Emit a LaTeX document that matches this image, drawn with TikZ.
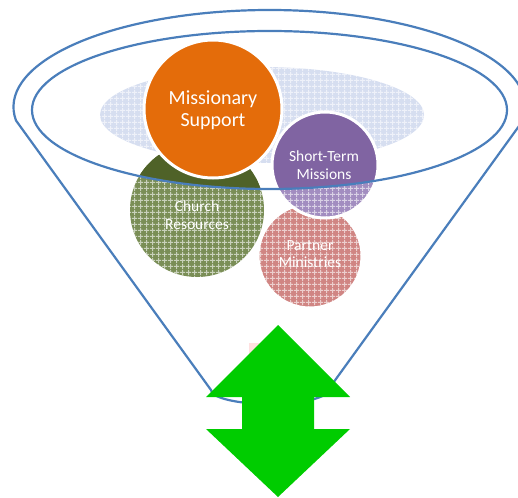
\documentclass[tikz,border=0pt]{standalone}
\usepackage{fontspec}
\setmainfont{Carlito}
\usetikzlibrary{patterns.meta}
\definecolor{funnelblue}{HTML}{4A7EBB}
\definecolor{orangeS}{HTML}{E46C0A}
\definecolor{purpleS}{HTML}{8064A2}
\definecolor{purpleP}{HTML}{A28DC0}
\definecolor{greenS}{HTML}{4F6228}
\definecolor{greenP}{HTML}{7A8E56}
\definecolor{redP}{HTML}{D08583}
\definecolor{bgP}{HTML}{D6DEF0}
\definecolor{arrowgreen}{HTML}{00CC00}
\tikzdeclarepattern{name=wgrid, type=uncolored,
  bounding box={(0,0) and (6pt,6pt)}, tile size={(6pt,6pt)},
  code={\tikzset{line width=0.5pt}\draw (0,3pt)--(6pt,3pt) (3pt,0)--(3pt,6pt);}}
\tikzset{
  funnelline/.style={draw=funnelblue, line width=2.2pt, line join=round},
  bubbleborder/.style={draw=white, line width=3pt},
  gridfill/.style={pattern=wgrid, pattern color=white, fill opacity=0.6},
  bigtext/.style={text=white, font=\fontsize{20}{22}\selectfont, align=center},
  smalltext/.style={text=white, font=\fontsize{15.5}{17.5}\selectfont, align=center},
  fadedtext/.style={smalltext},
}
\begin{document}
\begin{tikzpicture}[x=1pt,y=-1pt]
\useasboundingbox (0,0) rectangle (518,497);
% named centres
\coordinate (bgc) at (262,115);
\coordinate (grc) at (197,210);
\coordinate (rdc) at (310,256);
\coordinate (puc) at (325,165);
\coordinate (orc) at (213,109);
\coordinate (inc) at (269.5,110);
\coordinate (ouc) at (269.5,107);

% background light-blue ellipse
\fill[bgP] (bgc) ellipse[x radius=162, y radius=48];
\fill[gridfill] (bgc) ellipse[x radius=162, y radius=48];

% Church Resources (green)
\fill[greenP] (grc) circle[radius=67];
\fill[gridfill] (grc) circle[radius=67];
\begin{scope}
  \clip (inc) ellipse[x radius=237.5, y radius=79];
  \fill[greenS] (grc) circle[radius=67];
\end{scope}

% Partner Ministries (red)
\fill[redP] (rdc) circle[radius=52];
\fill[gridfill] (rdc) circle[radius=52];
\draw[bubbleborder] (rdc) circle[radius=52];

% Short-Term Missions (purple)
\fill[purpleP] (puc) circle[radius=53];
\fill[gridfill] (puc) circle[radius=53];
\begin{scope}
  \clip (inc) ellipse[x radius=237.5, y radius=79];
  \fill[purpleS] (puc) circle[radius=53];
\end{scope}
\draw[bubbleborder] (puc) circle[radius=53];

% Missionary Support (orange)
\fill[orangeS] (orc) circle[radius=69];
\draw[bubbleborder] (orc) circle[radius=69];

% texts
\node[bigtext] (ms) at (213,110) {Missionary\\Support};
\node[smalltext] (stm) at (324,165) {Short-Term\\Missions};
\node[fadedtext] (cr) at (197,215) {Church\\Resources};
\node[fadedtext] (pm) at (310,254) {Partner\\Ministries};

% funnel
\draw[funnelline] (inc) ellipse[x radius=237.5, y radius=79];
\draw[funnelline] (ouc) ++(172:256 and 97)
  arc[start angle=172, end angle=368, x radius=256, y radius=97]
  -- (328,390)
  arc[start angle=0, end angle=180, x radius=58.5, y radius=14]
  -- cycle;

% faint pink patch behind arrow
\fill[red!12] (249,343) rectangle (266,362);

% up-down arrow
\fill[arrowgreen] (278,325) -- (350,397) -- (314,397) -- (314,429) -- (350,429)
  -- (278,497) -- (206,429) -- (242,429) -- (242,397) -- (206,397) -- cycle;
\end{tikzpicture}
\end{document}
